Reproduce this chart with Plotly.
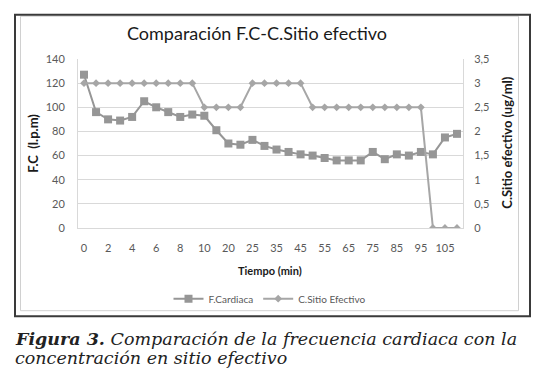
import plotly.graph_objects as go

# ---- data ----
tiempo = ["0", "1", "2", "3", "4", "5", "6", "7", "8", "9", "10", "15", "20", "22", "25",
          "30", "35", "40", "45", "50", "55", "60", "65", "70", "75", "80", "85", "90",
          "95", "100", "105", "110"]
fc = [127, 96, 90, 89, 92, 105, 100, 96, 92, 94, 93, 81, 70, 69, 73,
      68, 65, 63, 61, 60, 58, 56, 56, 56, 63, 57, 61, 60, 63, 61, 75, 78]
cse = [3, 3, 3, 3, 3, 3, 3, 3, 3, 3, 2.5, 2.5, 2.5, 2.5, 3,
       3, 3, 3, 3, 2.5, 2.5, 2.5, 2.5, 2.5, 2.5, 2.5, 2.5, 2.5, 2.5, 0, 0, 0]
tick_labels = tiempo[::2]

# ---- geometry helpers (page pixel -> paper); page body has an 8px margin ----
OFF = 8
L, R, T, B = 78 - OFF, 463 - OFF, 59.3 - OFF, 228.3 - OFF
W, H = 550 - OFF, 380 - OFF
def px(x):
    return (x - OFF - L) / (R - L)
def py(y):
    return (B - (y - OFF)) / (B - T)

fig = go.Figure()
fig.add_trace(go.Scatter(
    x=tiempo, y=fc, name="F.Cardiaca", mode="lines+markers",
    line=dict(color="#969696", width=2),
    marker=dict(symbol="square", size=8, color="#969696"),
))
fig.add_trace(go.Scatter(
    x=tiempo, y=cse, name="C.Sitio Efectivo", mode="lines+markers", yaxis="y2",
    line=dict(color="#a6a6a6", width=2),
    marker=dict(symbol="diamond", size=6, color="#a6a6a6"),
))

grid = "#d9d9d9"
tickfont = dict(family="Lato", size=11, color="#595959")
fig.update_layout(
    width=W, height=H,
    margin=dict(l=L, r=W - R, t=T, b=H - B, autoexpand=False),
    paper_bgcolor="white", plot_bgcolor="white",
    separators=",.",
    showlegend=True,
    legend=dict(orientation="h", x=px(270), xanchor="center", y=py(299), yanchor="middle",
                font=dict(family="Lato", size=10, color="#595959"),
                itemwidth=30, tracegroupgap=0, bgcolor="rgba(0,0,0,0)"),
    xaxis=dict(type="category", categoryorder="array", categoryarray=tiempo,
               range=[-0.5, len(tiempo) - 0.5],
               tickmode="array", tickvals=tick_labels, ticktext=tick_labels,
               showgrid=False, showline=True, linecolor=grid, linewidth=1,
               ticks="", ticklabelstandoff=10, tickfont=tickfont, zeroline=False),
    yaxis=dict(range=[0, 140], dtick=20, showgrid=True, gridcolor=grid, gridwidth=1,
               showline=True, linecolor=grid, linewidth=1, ticks="",
               ticklabelstandoff=10, tickfont=tickfont, zeroline=False),
    yaxis2=dict(range=[0, 3.5], dtick=0.5, overlaying="y", side="right", showgrid=False,
                showline=True, linecolor=grid, linewidth=1, ticks="",
                ticklabelstandoff=8, tickfont=tickfont, zeroline=False),
)

annots = [
    dict(text="Comparación F.C-C.Sitio efectivo", x=px(257), y=py(33),
         font=dict(family="Lato", size=18, color="#1a1a1a")),
    dict(text="<b>F.C  (l.p.m)</b>", x=px(33), y=py(144), textangle=-90,
         font=dict(family="Lato", size=13, color="#1a1a1a")),
    dict(text="<b>C.Sitio efectivo (ug/ml)</b>", x=px(507), y=py(143), textangle=-90,
         font=dict(family="Lato", size=13, color="#1a1a1a")),
    dict(text="<b>Tiempo (min)</b>", x=px(270), y=py(271),
         font=dict(family="Lato", size=11, color="#1a1a1a")),
    dict(text="<b><i>Figura 3.</i></b><i> Comparación de la frecuencia cardiaca con la</i>",
         x=px(13), y=py(339), xanchor="left",
         font=dict(family="DejaVu Serif", size=17.5, color="#222222")),
    dict(text="<i>concentración en sitio efectivo</i>",
         x=px(13), y=py(358), xanchor="left",
         font=dict(family="DejaVu Serif", size=17.5, color="#222222")),
]
for a in annots:
    a.setdefault("xanchor", "center")
    fig.add_annotation(xref="paper", yref="paper", showarrow=False, yanchor="middle", **a)

# chart frame
fig.add_shape(type="rect", xref="paper", yref="paper",
              x0=px(20.5), x1=px(518.5), y0=py(311), y1=py(16.5),
              line=dict(color="#d0d0d0", width=1), layer="below")
fig.add_shape(type="rect", xref="paper", yref="paper",
              x0=px(15), x1=px(530), y0=py(316.5), y1=py(15),
              line=dict(color="#3a3a3a", width=2), layer="below")

fig.write_html("out.html")
